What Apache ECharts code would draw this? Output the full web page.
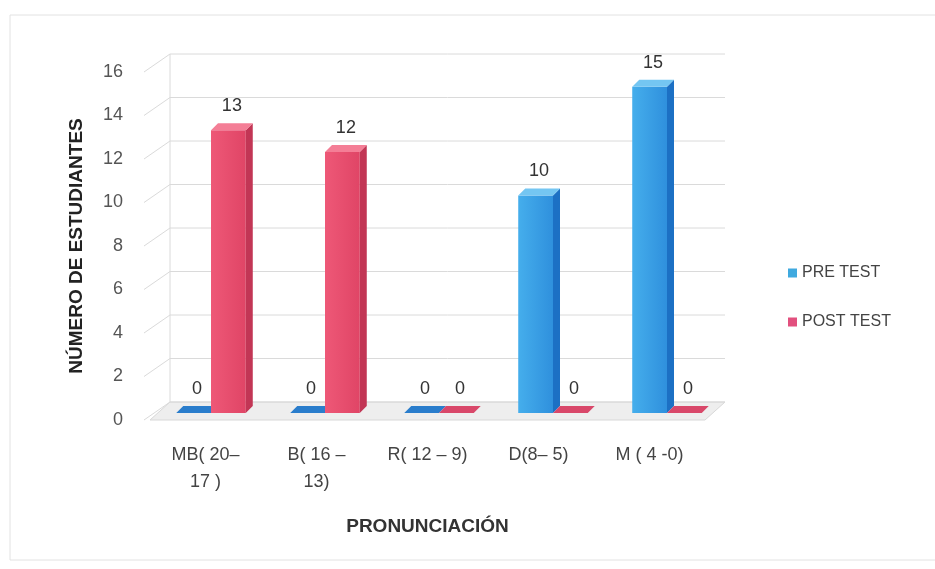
<!DOCTYPE html>
<html><head><meta charset="utf-8">
<script src="https://cdn.jsdelivr.net/npm/echarts@6/dist/echarts.min.js"></script>
<style>html,body{margin:0;padding:0;background:#fff}#c{width:935px;height:569px}</style>
</head><body><div id="c"></div>
<script>
const categories = ['MB( 20–\n17 )', 'B( 16 –\n13)', 'R( 12 – 9)', 'D(8– 5)', 'M ( 4 -0)'];
const preTest = [0, 0, 0, 10, 15];
const postTest = [13, 12, 0, 0, 0];
const yTicks = [0, 2, 4, 6, 8, 10, 12, 14, 16];
const seriesNames = ['PRE TEST', 'POST TEST'];

const FONT = '"Liberation Sans", Arial, sans-serif';
const BACK_DX = 20, BACK_DY = -18;   // back wall offset
const BAR_DY = -7;                    // bar placement depth (vertical)
const DEPTH = 7;                      // bar depth

const palettes = {
  pre:  {front: '#45AEEC', front2: '#2F90DD', side: '#1C70C4', top: '#74C6F2', flat: '#2A7DCC', legend: '#3FA9DF'},
  post: {front: '#EE5877', front2: '#E04566', side: '#C23655', top: '#F47E96', flat: '#D9486A', legend: '#E2507E'}
};

function barRender(pal, side) {
  return function (params, api) {
    const cat = api.value(0), v = api.value(1);
    const base = api.coord([cat, 0]);
    const top = api.coord([cat, v]);
    const band = api.size([1, 0])[0];
    const bw = band * 0.305;
    const x0 = base[0] + (side < 0 ? -bw : 0);
    const yb = base[1] + BAR_DY;
    const yt = top[1] + BAR_DY;
    const children = [];
    if (v > 0) {
      children.push({type: 'rect', shape: {x: x0, y: yt, width: bw, height: yb - yt},
        style: {fill: new echarts.graphic.LinearGradient(0, 0, 1, 0, [
          {offset: 0, color: pal.front}, {offset: 1, color: pal.front2}])}});
      children.push({type: 'polygon', shape: {points: [[x0 + bw, yt], [x0 + bw + DEPTH, yt - DEPTH], [x0 + bw + DEPTH, yb - DEPTH], [x0 + bw, yb]]},
        style: {fill: pal.side}});
      children.push({type: 'polygon', shape: {points: [[x0, yt], [x0 + DEPTH, yt - DEPTH], [x0 + bw + DEPTH, yt - DEPTH], [x0 + bw, yt]]},
        style: {fill: pal.top}});
    } else {
      children.push({type: 'polygon', shape: {points: [[x0, yt], [x0 + DEPTH, yt - DEPTH], [x0 + bw + DEPTH, yt - DEPTH], [x0 + bw, yt]]},
        style: {fill: pal.flat}});
    }
    children.push({type: 'text', style: {
      text: String(v), x: x0 + bw / 2 + DEPTH / 2, y: yt - DEPTH - 8,
      align: 'center', verticalAlign: 'bottom',
      fill: '#333', font: '18px ' + FONT}});
    return {type: 'group', children};
  };
}

function wallRender(params, api) {
  const cs = params.coordSys;
  const children = [];
  const y0 = api.coord([0, 0])[1];
  children.push({type: 'polygon', shape: {points: [
    [cs.x, y0], [cs.x + BACK_DX, y0 + BACK_DY], [cs.x + cs.width + BACK_DX, y0 + BACK_DY], [cs.x + cs.width, y0]]},
    style: {fill: '#EEEEEE', stroke: '#D8D8D8', lineWidth: 1}});
  yTicks.forEach(function (t) {
    const y = api.coord([0, t])[1];
    children.push({type: 'polyline', shape: {points: [
      [cs.x - 6, y], [cs.x + BACK_DX, y + BACK_DY], [cs.x + cs.width + BACK_DX, y + BACK_DY]]},
      style: {stroke: '#DADADA', lineWidth: 1, fill: null}});
  });
  children.push({type: 'line', shape: {x1: cs.x + BACK_DX, y1: api.coord([0, yTicks[yTicks.length - 1]])[1] + BACK_DY,
    x2: cs.x + BACK_DX, y2: y0 + BACK_DY}, style: {stroke: '#DADADA', lineWidth: 1}});
  return {type: 'group', children};
}

const chart = echarts.init(document.getElementById('c'), null, {renderer: 'canvas'});
chart.setOption({
  backgroundColor: '#fff',
  animation: false,
  graphic: [{type: 'rect', shape: {x: 10, y: 15, width: 940, height: 545},
    style: {fill: null, stroke: '#E2E2E2', lineWidth: 1}, silent: true}],
  grid: [
    {left: 150, right: 230, top: 72, bottom: 149},
    {left: 154, right: 211, top: 72, bottom: 149}
  ],
  legend: {
    orient: 'vertical', left: 783, top: 260, itemWidth: 9, itemHeight: 9, itemGap: 33, icon: 'rect',
    data: seriesNames,
    textStyle: {fontFamily: FONT, fontSize: 16, color: '#444'}
  },
  xAxis: [{
    type: 'category', data: categories, gridIndex: 0,
    name: 'PRONUNCIACIÓN', nameLocation: 'middle', nameGap: 97,
    nameTextStyle: {fontFamily: FONT, fontWeight: 'bold', fontSize: 19, color: '#333'},
    axisLine: {show: false}, axisTick: {show: false},
    axisLabel: {margin: 22, fontFamily: FONT, fontSize: 18, color: '#444', lineHeight: 27}
  }, {
    type: 'category', data: categories, gridIndex: 1, show: false
  }],
  yAxis: [{
    type: 'value', min: 0, max: 16, interval: 2, gridIndex: 0,
    name: 'NÚMERO DE ESTUDIANTES', nameLocation: 'middle', nameGap: 64, nameRotate: 90,
    nameTextStyle: {fontFamily: FONT, fontWeight: 'bold', fontSize: 19, color: '#222'},
    axisLine: {show: false}, axisTick: {show: false}, splitLine: {show: false},
    axisLabel: {margin: 27, fontFamily: FONT, fontSize: 18, color: '#555'}
  }, {
    type: 'value', min: 0, max: 16, interval: 2, gridIndex: 1, show: false, splitLine: {show: false}
  }],
  series: [
    {type: 'custom', name: '_wall', silent: true, renderItem: wallRender, data: [[0, 0]], z: 1,
      xAxisIndex: 0, yAxisIndex: 0},
    {type: 'custom', name: seriesNames[0], renderItem: barRender(palettes.pre, -1),
      xAxisIndex: 1, yAxisIndex: 1,
      itemStyle: {color: palettes.pre.legend},
      data: preTest.map(function (v, i) { return [i, v]; }), z: 3},
    {type: 'custom', name: seriesNames[1], renderItem: barRender(palettes.post, 1),
      xAxisIndex: 1, yAxisIndex: 1,
      itemStyle: {color: palettes.post.legend},
      data: postTest.map(function (v, i) { return [i, v]; }), z: 3}
  ]
});
</script></body></html>
